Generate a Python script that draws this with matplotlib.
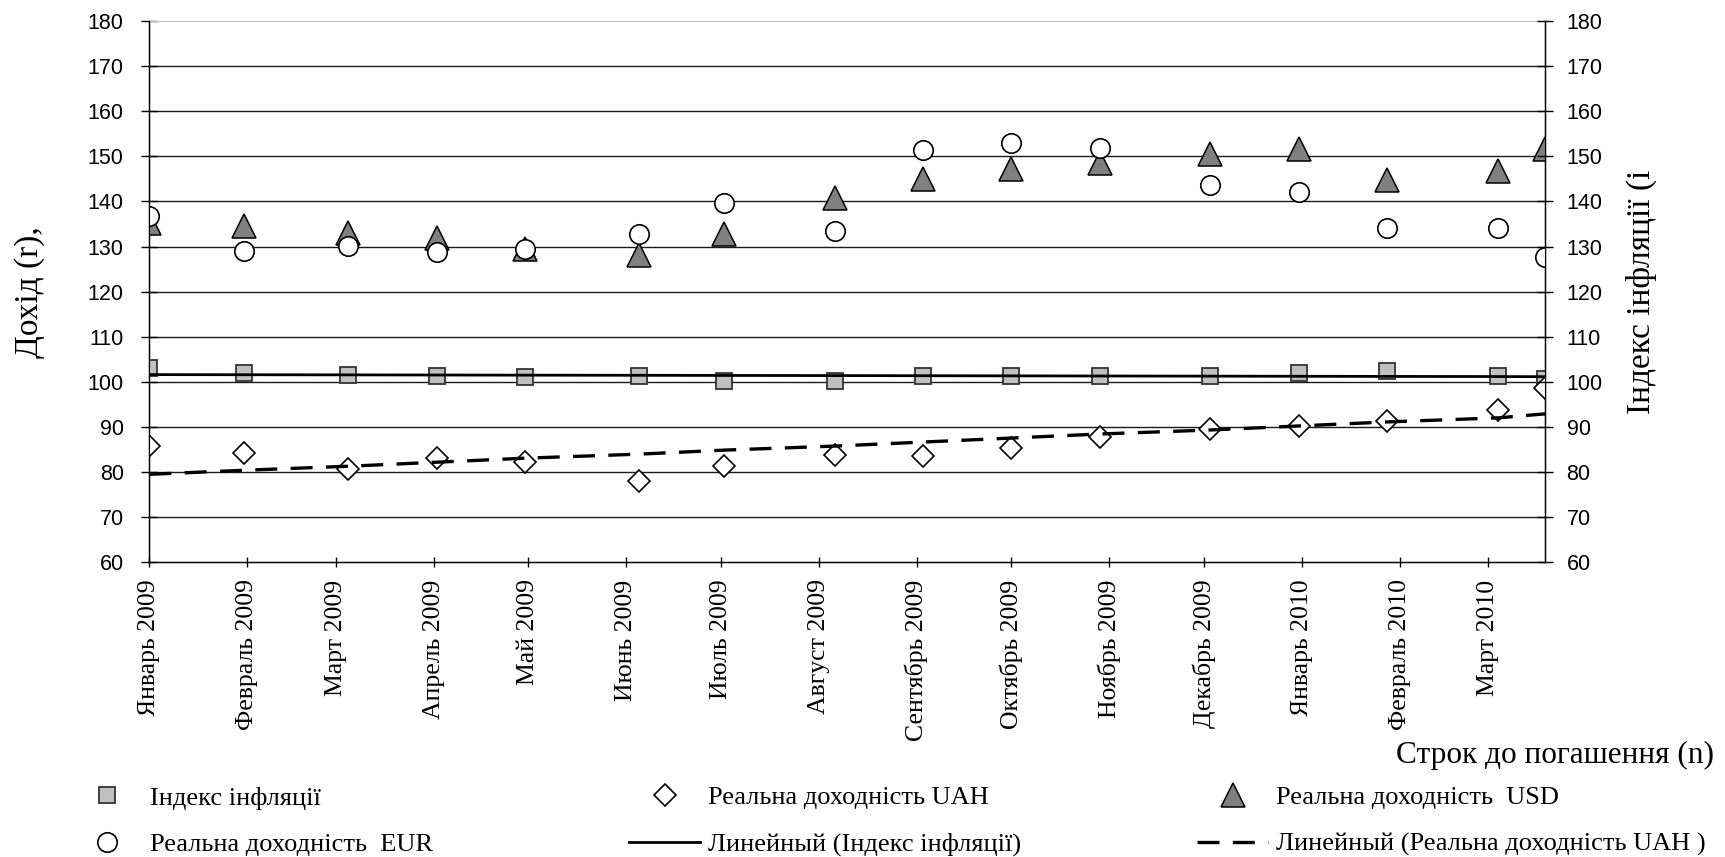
import numpy as np
import pandas as pd
import matplotlib
matplotlib.use("Agg")
import matplotlib.pyplot as plt
from matplotlib.lines import Line2D

# Data
dates = pd.to_datetime([
    "2009-01-01", "2009-01-31", "2009-03-05", "2009-04-02", "2009-04-30",
    "2009-06-05", "2009-07-02", "2009-08-06", "2009-09-03", "2009-10-01",
    "2009-10-29", "2009-12-03", "2009-12-31", "2010-01-28", "2010-03-04",
    "2010-03-19",
])
inflation = [103.0, 102.0, 101.6, 101.2, 101.0, 101.2, 100.3, 100.3,
             101.3, 101.3, 101.3, 101.3, 102.0, 102.4, 101.3, 100.7]
yield_uah = [85.7, 84.3, 80.7, 83.2, 82.2, 78.1, 81.4, 83.9,
             83.5, 85.3, 87.7, 89.6, 90.3, 91.3, 93.7, 98.6]
yield_usd = [135.3, 134.5, 133.1, 132.0, 129.5, 128.1, 132.8, 140.7,
             144.9, 147.1, 148.5, 150.5, 151.6, 144.8, 146.7, 151.6]
yield_eur = [136.7, 129.1, 130.1, 128.7, 129.5, 132.7, 139.6, 133.4,
             151.4, 153.0, 151.9, 143.7, 142.1, 134.1, 134.1, 127.7]

month_labels = ["Январь 2009", "Февраль 2009", "Март 2009", "Апрель 2009",
                "Май 2009", "Июнь 2009", "Июль 2009", "Август 2009",
                "Сентябрь 2009", "Октябрь 2009", "Ноябрь 2009", "Декабрь 2009",
                "Январь 2010", "Февраль 2010", "Март 2010"]
month_ticks = pd.date_range("2009-01-01", periods=len(month_labels), freq="MS")

SERIF = "Liberation Serif"
SANS = "Liberation Sans"

# marker styles
SQ = dict(marker="s", ms=11, mfc="#c0c0c0", mec="#333333", mew=1.3)
DI = dict(marker="D", ms=11.5, mfc="white", mec="black", mew=1.2)
TR = dict(marker="^", ms=17, mfc="#808080", mec="black", mew=1.1)
CI = dict(marker="o", ms=14, mfc="white", mec="black", mew=1.2)
SOLID = dict(color="black", lw=2.0)
DASH = dict(color="black", lw=2.4, dashes=(6.6, 4))

# Linear trendlines (Excel style: fitted against point number)
idx = np.arange(len(dates))
trend_infl = np.polyval(np.polyfit(idx, inflation, 1), idx)
trend_uah = np.polyval(np.polyfit(idx, yield_uah, 1), idx)

fig = plt.figure(figsize=(17.25, 8.57), dpi=100)
ax = fig.add_axes([0.0866, 0.3438, 0.8091, 0.6317])

# grid
for v in range(70, 180, 10):
    ax.axhline(v, color="#1a1a1a", linewidth=1.0, zorder=1)

ax.plot(dates, inflation, ls="none", zorder=3, **SQ)
ax.plot(dates, yield_uah, ls="none", zorder=3, **DI)
ax.plot(dates, yield_usd, ls="none", zorder=3, **TR)
ax.plot(dates, yield_eur, ls="none", zorder=4, **CI)
ax.plot(dates, trend_infl, zorder=5, **SOLID)
ax.plot(dates, trend_uah, zorder=5, **DASH)

ax.set_xlim(dates[0], dates[-1])
ax.set_ylim(60, 180)
ax.set_yticks(range(60, 181, 10))
ax.set_xticks(month_ticks)
ax.set_xticklabels(month_labels, rotation=90, fontsize=18.5, family=SERIF)
for lab in ax.get_yticklabels():
    lab.set_family(SANS)
ax.tick_params(axis="y", direction="inout", length=12, width=1, labelsize=15.5, pad=12.5)
ax.tick_params(axis="x", direction="inout", length=7.5, width=1, pad=8.5)

for side in ("left", "bottom", "right"):
    ax.spines[side].set_color("black")
    ax.spines[side].set_linewidth(1.0)
ax.spines["top"].set_color("#c0c0c0")

ax.set_ylabel("Дохід (r),", fontsize=24, family=SERIF)
ax.yaxis.set_label_coords(-0.075, 0.5)

ax2 = ax.twinx()
ax2.set_ylim(60, 180)
ax2.set_yticks(range(60, 181, 10))
for lab in ax2.get_yticklabels():
    lab.set_family(SANS)
ax2.tick_params(axis="y", direction="inout", length=12, width=1, labelsize=15.5, pad=9.5)
ax2.spines["top"].set_visible(False)
ax2.set_ylabel("Індекс інфляції (і", fontsize=24, family=SERIF)
ax2.yaxis.set_label_coords(1.058, 0.5)

fig.text(0.9936, 0.118, "Строк до погашення (n)", fontsize=22.5, family=SERIF,
         ha="right", va="center")

# Legend: three columns, two rows
h_sq = Line2D([], [], ls="none", **SQ)
h_eur = Line2D([], [], ls="none", **CI)
h_uah = Line2D([], [], ls="none", **DI)
h_lin1 = Line2D([], [], **SOLID)
h_usd = Line2D([], [], ls="none", **TR)
h_lin2 = Line2D([], [], **DASH)

columns = [
    ([h_sq, h_eur], ["Індекс інфляції", "Реальна доходність  EUR"], 0.0412),
    ([h_uah, h_lin1], ["Реальна доходність UAH", "Линейный (Індекс інфляції)"], 0.3646),
    ([h_usd, h_lin2], ["Реальна доходність  USD", "Линейный (Реальна доходність UAH )"], 0.694),
]
for handles, labels, x0 in columns:
    fig.legend(handles, labels, loc="center left", bbox_to_anchor=(x0, 0.042),
               frameon=False, borderpad=0, borderaxespad=0,
               handlelength=2.7, handletextpad=0.3, labelspacing=0.87,
               prop={"family": SERIF, "size": 19})

fig.savefig("out.png", dpi=100)
